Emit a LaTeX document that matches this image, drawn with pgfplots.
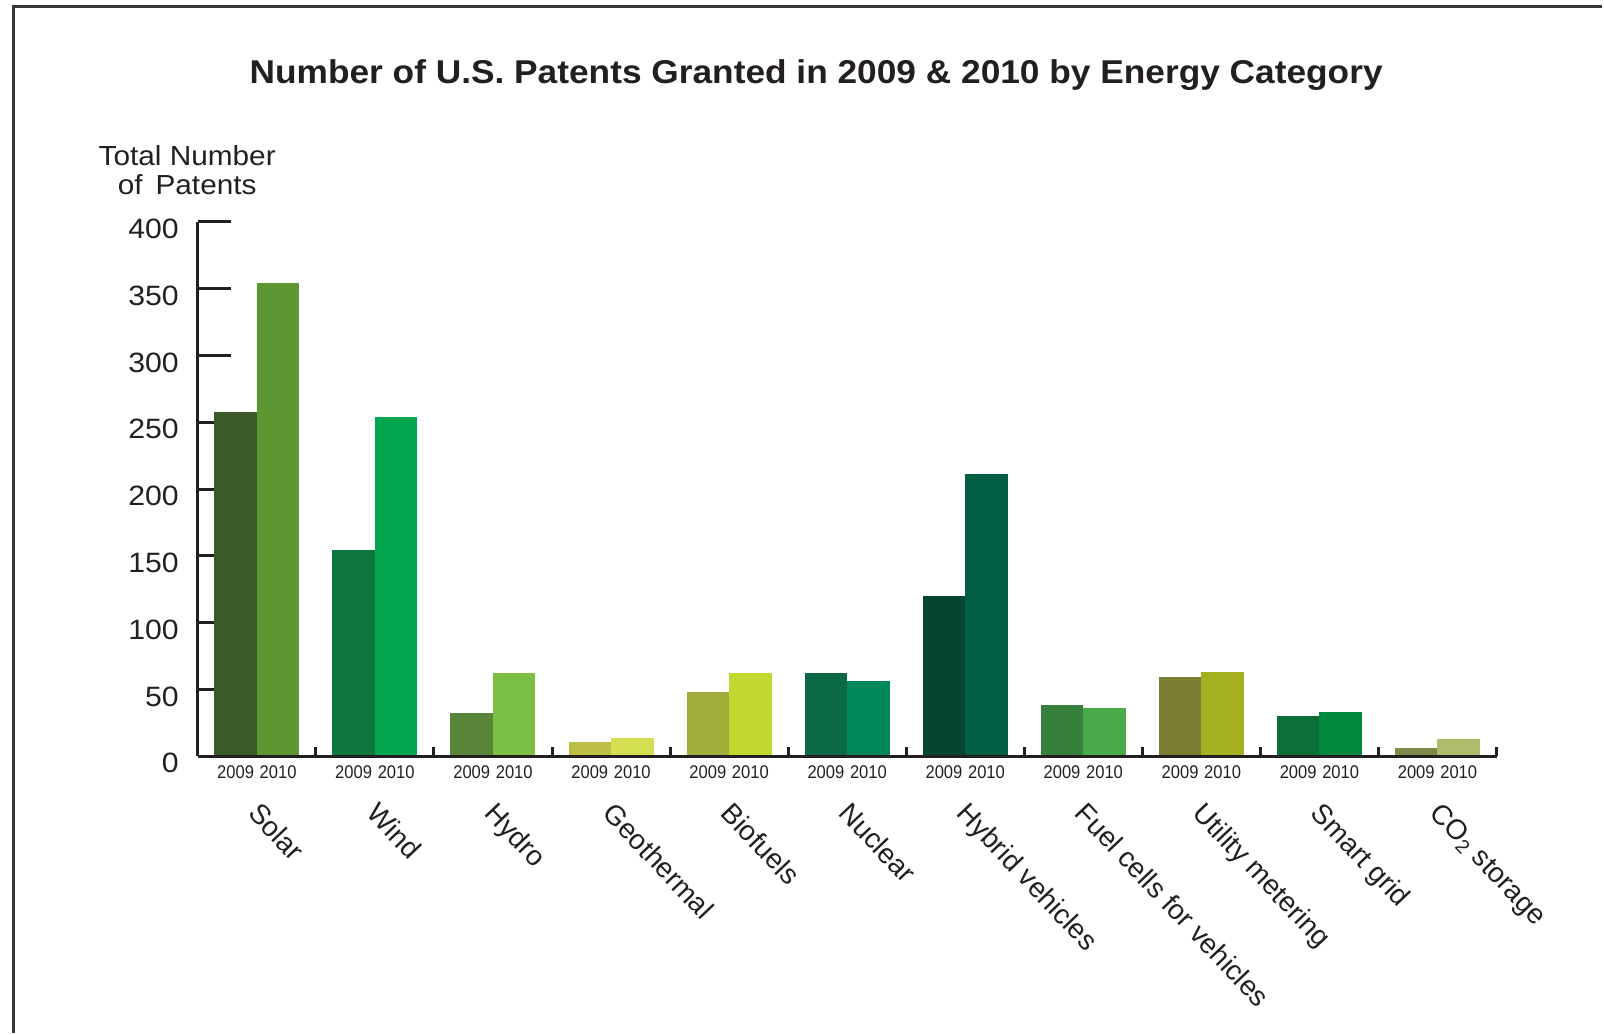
\documentclass[border=0pt]{standalone}
\usepackage{fontspec}
\setmainfont{Liberation Sans}
\newfontfamily\titlefont[FakeStretch=1.07]{Liberation Sans}
\newfontfamily\widefont[FakeStretch=1.08]{Liberation Sans}
\newfontfamily\narrowfont[FakeStretch=0.9]{Liberation Sans}
\usepackage{pgfplots}
\pgfplotsset{compat=1.18}

\definecolor{ink}{HTML}{231F20}
% 2009 / 2010 fills per category
\definecolor{solA}{HTML}{3A5A28}\definecolor{solB}{HTML}{5E9732}
\definecolor{winA}{HTML}{0E773E}\definecolor{winB}{HTML}{00A54E}
\definecolor{hydA}{HTML}{58853A}\definecolor{hydB}{HTML}{7CC043}
\definecolor{geoA}{HTML}{BDBE45}\definecolor{geoB}{HTML}{D4E052}
\definecolor{bioA}{HTML}{A0AD3A}\definecolor{bioB}{HTML}{C2D82E}
\definecolor{nucA}{HTML}{0B6A45}\definecolor{nucB}{HTML}{00885A}
\definecolor{hybA}{HTML}{064532}\definecolor{hybB}{HTML}{025E42}
\definecolor{fueA}{HTML}{37803C}\definecolor{fueB}{HTML}{48AA48}
\definecolor{utiA}{HTML}{7C7E34}\definecolor{utiB}{HTML}{A5B020}
\definecolor{smaA}{HTML}{0E6E38}\definecolor{smaB}{HTML}{00883F}
\definecolor{co2A}{HTML}{7D8B4C}\definecolor{co2B}{HTML}{AEBD6B}

\pgfplotsset{
  patbar/.style={ybar, bar width=0.36, bar shift=0pt, draw=none, fill=#1},
}

\begin{document}
\begin{tikzpicture}[x=1pt,y=1pt]
% page extent
\path (0,0) rectangle (802,517);

% page frame (open at right and bottom)
\draw[ink!90, line width=1.6pt] (6.6,0) -- (6.6,513.6) -- (802,513.6);

\node[anchor=base, text=ink, font={\titlefont\bfseries\fontsize{16.5}{19}\selectfont}]
  at (408.5,475.4) {Number of U.S. Patents Granted in 2009 \& 2010 by Energy Category};

\node[anchor=base, text=ink, font={\widefont\fontsize{13.8}{16}\selectfont}] at (93.7,434.2) {Total Number};
\node[anchor=base, text=ink, font={\widefont\fontsize{13.8}{16}\selectfont}] at (93.7,419.5) {of\ \,Patents};

\begin{axis}[
  at={(99pt,138.5pt)}, anchor=south west,
  scale only axis, width=650pt, height=267.5pt,
  set layers,
  xmin=0, xmax=11, ymin=0, ymax=400,
  axis lines=left,
  axis line style={-, line width=1.5pt, ink},
  ytick={0,50,...,400},
  xtick={0,...,11}, xticklabels={},
  tick align=inside,
  major tick length=16.5pt,
  tick style={line width=1.5pt, ink},
  xtick style={/pgfplots/major tick length=4.5pt},
  yticklabel style={text=ink, font={\widefont\fontsize{14}{16}\selectfont}, xshift=-6pt, yshift=-3.5pt},
  /pgf/number format/assume math mode=true,
  clip=false,
]
% Solar
\addplot[patbar=solA] coordinates {(0.32,258)};
\addplot[patbar=solB] coordinates {(0.68,354)};
% Wind
\addplot[patbar=winA] coordinates {(1.32,154)};
\addplot[patbar=winB] coordinates {(1.68,254)};
% Hydro
\addplot[patbar=hydA] coordinates {(2.32,32)};
\addplot[patbar=hydB] coordinates {(2.68,62)};
% Geothermal
\addplot[patbar=geoA] coordinates {(3.32,11)};
\addplot[patbar=geoB] coordinates {(3.68,14)};
% Biofuels
\addplot[patbar=bioA] coordinates {(4.32,48)};
\addplot[patbar=bioB] coordinates {(4.68,62)};
% Nuclear
\addplot[patbar=nucA] coordinates {(5.32,62)};
\addplot[patbar=nucB] coordinates {(5.68,56)};
% Hybrid vehicles
\addplot[patbar=hybA] coordinates {(6.32,120)};
\addplot[patbar=hybB] coordinates {(6.68,211)};
% Fuel cells for vehicles
\addplot[patbar=fueA] coordinates {(7.32,38)};
\addplot[patbar=fueB] coordinates {(7.68,36)};
% Utility metering
\addplot[patbar=utiA] coordinates {(8.32,59)};
\addplot[patbar=utiB] coordinates {(8.68,63)};
% Smart grid
\addplot[patbar=smaA] coordinates {(9.32,30)};
\addplot[patbar=smaB] coordinates {(9.68,33)};
% CO2 storage
\addplot[patbar=co2A] coordinates {(10.32,6)};
\addplot[patbar=co2B] coordinates {(10.68,13)};
% baseline redrawn over the bar feet
\draw[line width=1.5pt, ink] (axis cs:0,0) -- (axis cs:11,0);
\end{axis}

% year labels under each bar and rotated category names
\foreach \k/\name in {0/Solar, 1/Wind, 2/Hydro, 3/Geothermal, 4/Biofuels, 5/Nuclear,
  6/Hybrid vehicles, 7/Fuel cells for vehicles, 8/Utility metering, 9/Smart grid,
  10/{CO\textsubscript{2} storage}} {
  \pgfmathsetmacro\cx{99+650/11*(\k+0.5)}
  \node[anchor=base, text=ink, font={\narrowfont\fontsize{9.2}{10}\selectfont}, inner sep=0pt]
    at (\cx-10.64,127.35) {2009};
  \node[anchor=base, text=ink, font={\narrowfont\fontsize{9.2}{10}\selectfont}, inner sep=0pt]
    at (\cx+10.64,127.35) {2010};
  \node[anchor=north west, rotate=-46.5, text=ink, font=\fontsize{14}{16}\selectfont, inner sep=0pt]
    at (\cx+2.5,116.5) {\name};
}
\end{tikzpicture}
\end{document}
